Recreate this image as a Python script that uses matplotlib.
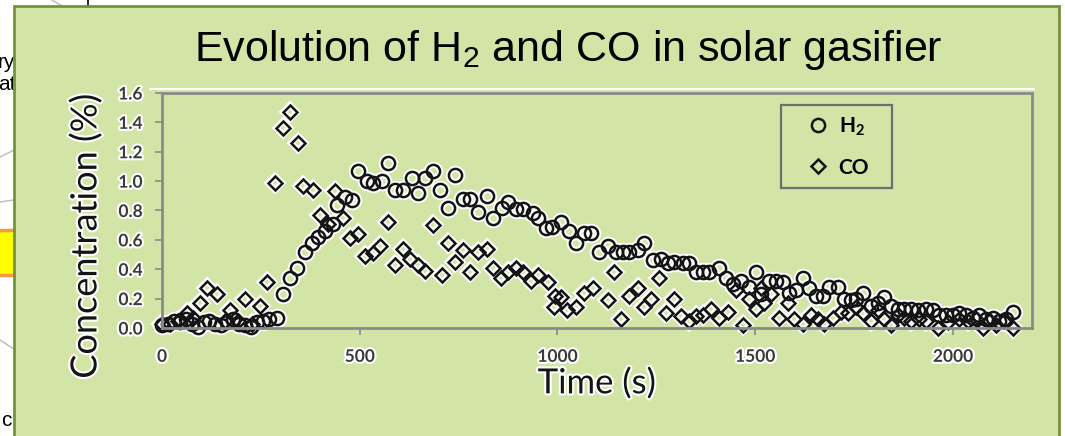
import matplotlib
matplotlib.use("Agg")
import matplotlib.pyplot as plt
import matplotlib.patheffects as pe
from matplotlib.patches import Rectangle
from matplotlib.lines import Line2D

# H2 concentration (%) vs time (s)
h2_time = [0, 15, 30, 45, 60, 75, 90, 105, 120, 135, 150, 165, 180, 195, 210,
           225, 240, 255, 270, 290, 306, 324, 342, 362, 380, 395, 412, 433,
           443, 463, 481, 496, 519, 534, 557, 572, 590, 610, 633, 648, 666,
           686, 704, 722, 742, 760, 780, 800, 823, 838, 861, 876, 894, 914,
           937, 952, 970, 987, 1008, 1028, 1046, 1066, 1084, 1104, 1127, 1147,
           1165, 1180, 1203, 1218, 1241, 1261, 1279, 1294, 1317, 1332, 1350,
           1367, 1382, 1408, 1426, 1443, 1464, 1484, 1501, 1514, 1534, 1552,
           1570, 1585, 1603, 1620, 1636, 1653, 1671, 1686, 1709, 1724, 1742,
           1755, 1772, 1793, 1810, 1826, 1843, 1861, 1876, 1894, 1912, 1932,
           1950, 1965, 1983, 2000, 2015, 2033, 2051, 2066, 2084, 2102, 2117,
           2135, 2152]
h2_conc = [0.02, 0.03, 0.05, 0.04, 0.06, 0.03, 0.01, 0.04, 0.05, 0.03, 0.02,
           0.04, 0.06, 0.03, 0.02, 0.01, 0.04, 0.05, 0.06, 0.07, 0.23, 0.34,
           0.41, 0.52, 0.58, 0.62, 0.66, 0.71, 0.84, 0.89, 0.87, 1.07, 1.00,
           0.99, 1.00, 1.12, 0.94, 0.94, 1.02, 0.92, 1.02, 1.07, 0.94, 0.82,
           1.04, 0.88, 0.88, 0.79, 0.90, 0.75, 0.82, 0.86, 0.81, 0.81, 0.78,
           0.75, 0.68, 0.69, 0.72, 0.66, 0.58, 0.65, 0.65, 0.52, 0.56, 0.52,
           0.52, 0.52, 0.53, 0.58, 0.46, 0.47, 0.44, 0.45, 0.44, 0.44, 0.38,
           0.38, 0.38, 0.41, 0.34, 0.30, 0.32, 0.28, 0.38, 0.23, 0.32, 0.32,
           0.31, 0.24, 0.26, 0.34, 0.27, 0.22, 0.22, 0.28, 0.28, 0.20, 0.19,
           0.20, 0.24, 0.15, 0.17, 0.21, 0.15, 0.13, 0.13, 0.13, 0.12, 0.13,
           0.12, 0.09, 0.09, 0.09, 0.10, 0.09, 0.07, 0.09, 0.06, 0.07, 0.05,
           0.06, 0.11]

# CO concentration (%) vs time (s)
co_time = [0, 20, 41, 63, 78, 96, 114, 139, 160, 172, 192, 210, 228, 248,
           266, 286, 306, 324, 344, 357, 382, 400, 420, 438, 458, 476, 496,
           514, 534, 552, 572, 590, 610, 628, 648, 666, 686, 709, 724, 742,
           762, 780, 800, 823, 838, 856, 876, 894, 912, 932, 952, 975, 990,
           995, 1008, 1025, 1046, 1066, 1089, 1127, 1142, 1160, 1180, 1203,
           1218, 1236, 1256, 1274, 1294, 1312, 1332, 1350, 1367, 1388, 1408,
           1431, 1451, 1469, 1484, 1501, 1514, 1522, 1539, 1560, 1583, 1598,
           1620, 1641, 1658, 1674, 1696, 1717, 1734, 1755, 1772, 1793, 1810,
           1826, 1843, 1861, 1876, 1894, 1914, 1932, 1962, 1988, 2015, 2038,
           2058, 2076, 2091, 2109, 2129, 2152]
co_conc = [0.03, 0.03, 0.05, 0.10, 0.07, 0.17, 0.27, 0.23, 0.05, 0.12, 0.05,
           0.20, 0.03, 0.15, 0.31, 0.99, 1.36, 1.47, 1.26, 0.97, 0.94, 0.77,
           0.71, 0.93, 0.75, 0.61, 0.64, 0.49, 0.51, 0.56, 0.72, 0.43, 0.54,
           0.47, 0.43, 0.39, 0.70, 0.36, 0.58, 0.45, 0.53, 0.38, 0.52, 0.54,
           0.41, 0.34, 0.38, 0.41, 0.38, 0.32, 0.36, 0.31, 0.14, 0.22, 0.21,
           0.12, 0.14, 0.24, 0.27, 0.19, 0.38, 0.06, 0.22, 0.27, 0.14, 0.20,
           0.34, 0.10, 0.20, 0.08, 0.05, 0.08, 0.09, 0.13, 0.07, 0.11, 0.26,
           0.02, 0.20, 0.13, 0.27, 0.17, 0.23, 0.07, 0.17, 0.06, 0.03, 0.09,
           0.06, 0.03, 0.07, 0.11, 0.10, 0.14, 0.10, 0.05, 0.12, 0.06, 0.02,
           0.09, 0.07, 0.05, 0.06, 0.05, 0.00, 0.04, 0.06, 0.05, 0.06, 0.00,
           0.05, 0.02, 0.05, 0.00]

y_ticks = [0.0, 0.2, 0.4, 0.6, 0.8, 1.0, 1.2, 1.4, 1.6]
x_ticks = [0, 500, 1000, 1500, 2000]

green = "#d3e4a7"
border = "#76923c"
W, H = 1065, 436

plt.rcParams["mathtext.fontset"] = "custom"
plt.rcParams["mathtext.rm"] = "Liberation Sans"

fig = plt.figure(figsize=(W / 100, H / 100), dpi=100)
fig.patch.set_facecolor("white")

# bits of the slide behind the green box
for x0, y0, x1, y1 in [(0, 157, 20, 147), (0, 202, 20, 199), (0, 340, 20, 353), (52, 0, 64, 7)]:
    fig.add_artist(Line2D([x0 / W, x1 / W], [1 - y0 / H, 1 - y1 / H], color="#bbbbbb", lw=1, zorder=0))
fig.add_artist(Line2D([88 / W, 88 / W], [1, 1 - 7 / H], color="black", lw=1.2, zorder=0))
fig.add_artist(Rectangle((-0.01, 1 - 275 / H), 30 / W, 45 / H, facecolor="#ffff00",
                         edgecolor="#f79646", lw=2.5, zorder=0))
fig.text(-2 / W, 1 - 62 / H, "ry", fontsize=15, family="Liberation Sans", va="center", zorder=0)
fig.text(-2 / W, 1 - 84 / H, "ate", fontsize=15, family="Liberation Sans", va="center", zorder=0)
fig.text(1 / W, 1 - 420 / H, "c", fontsize=15, family="Liberation Sans", va="center", zorder=0)

# green box
fig.add_artist(Rectangle((14 / W, -0.05), (1059 - 14) / W, 1 - 6 / H + 0.05,
                         facecolor=green, edgecolor=border, lw=2, zorder=1))
# white edge of the pasted chart picture above its frame
fig.add_artist(Line2D([150 / W, 1034 / W], [1 - 89 / H, 1 - 89 / H], color="white", lw=1.5, zorder=1.5))

fig.text(568 / W, 1 - 50 / H, r"Evolution of H$_\mathregular{2}$ and CO in solar gasifier",
         fontsize=31, family="Liberation Sans", ha="center", va="center", zorder=3)

ax = fig.add_axes([162 / W, 1 - 328 / H, (1032 - 162) / W, (328 - 93) / H], zorder=2)
ax.set_facecolor("none")

halo = [pe.withStroke(linewidth=3, foreground="white")]

# white halo layer first, then the black markers
ax.plot(h2_time, h2_conc, "o", ms=9.5, mfc="none", mec="white", mew=4.5, clip_on=False)
ax.plot(co_time, co_conc, "D", ms=7.5, mfc="none", mec="white", mew=4.5, clip_on=False)
ax.plot(h2_time, h2_conc, "o", ms=9.5, mfc="none", mec="#141414", mew=1.8, clip_on=False,
        label="H$_\\mathregular{2}$")
ax.plot(co_time, co_conc, "D", ms=7.5, mfc="none", mec="#141414", mew=1.8, clip_on=False,
        label="CO")

ax.set_xlim(0, 2200)
ax.set_ylim(0, 1.6)
ax.set_xticks(x_ticks)
ax.set_yticks(y_ticks)
ax.set_yticklabels([f"{v:.1f}" for v in y_ticks])
for s in ax.spines.values():
    s.set_color("#8a8a8a")
    s.set_linewidth(2)
ax.tick_params(axis="both", colors="#8a8a8a", width=1.2, length=5, labelcolor="#3a3a3a",
               labelsize=12.5)
ax.tick_params(axis="x", pad=10)
ax.tick_params(axis="y", pad=9)
for lab in ax.get_xticklabels() + ax.get_yticklabels():
    lab.set_fontfamily("Lato")
    lab.set_fontweight("bold")
    lab.set_path_effects(halo)

ax.set_ylabel("Concentration (%)", fontsize=26, family="Lato", color="#141414")
ax.yaxis.set_label_coords(-0.088, 0.39)
ax.yaxis.label.set_va("center")
ax.yaxis.label.set_path_effects(halo)
ax.set_xlabel("Time (s)", fontsize=25, family="Lato", color="#141414")
ax.xaxis.set_label_coords(0.5, -0.235)
ax.xaxis.label.set_va("center")
ax.xaxis.label.set_path_effects(halo)

# legend frame drawn on its own, legend entries centred inside it
ax.add_patch(Rectangle((0.7115, 0.596), 0.1275, 0.353, transform=ax.transAxes, fill=False,
                       edgecolor="#6e6e6e", lw=1.6, zorder=5))
leg = ax.legend(loc="center", bbox_to_anchor=(0.775, 0.7725), frameon=False,
                prop={"family": "Lato", "weight": "bold", "size": 15},
                labelspacing=0.95, handletextpad=0.3, handlelength=1.4, borderaxespad=0)

fig.savefig("out.png", dpi=100)
